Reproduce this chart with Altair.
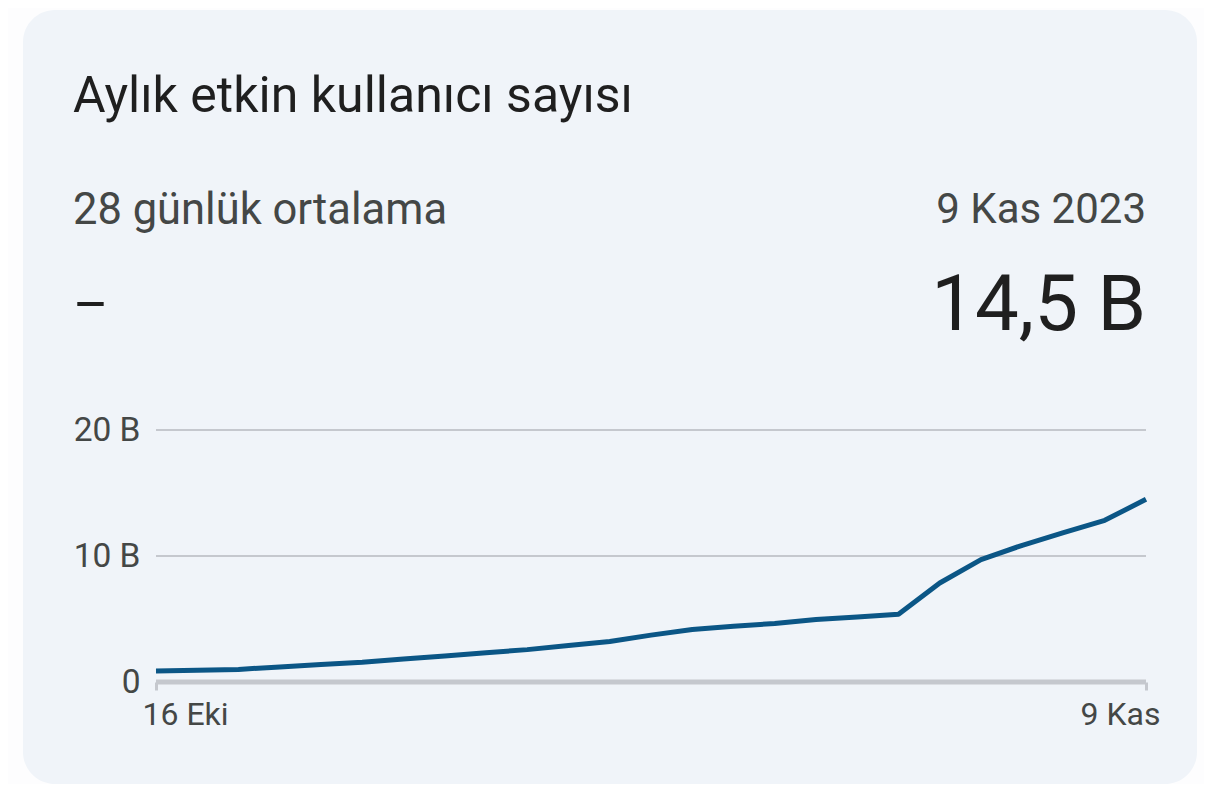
import altair as alt
import pandas as pd

# ---- content ----
TITLE = "Aylık etkin kullanıcı sayısı"
SUBTITLE = "28 günlük ortalama"
DATE_LABEL = "9 Kas 2023"
AVG_TEXT = "–"
UNIT = "B"

dates = pd.date_range("2023-10-16", "2023-11-09", freq="D").strftime("%Y-%m-%d").tolist()
values = [0.87, 0.94, 1.00, 1.20, 1.38, 1.56, 1.82, 2.06, 2.32, 2.57,
          2.90, 3.22, 3.72, 4.17, 4.42, 4.65, 4.96, 5.15, 5.38, 7.86,
          9.71, 10.85, 11.85, 12.83, 14.50]
y_ticks = [0, 10, 20]
month_names = ["Oca", "Şub", "Mar", "Nis", "May", "Haz",
               "Tem", "Ağu", "Eyl", "Eki", "Kas", "Ara"]

LAST_TEXT = f"{values[-1]:.1f}".replace(".", ",") + " " + UNIT

# ---- style ----
FONT = "Roboto"
CARD = "#f0f4f9"
LINE = "#0b5686"
GRID = "#c5c8ce"
DARK = "#1f1f1f"
GREY = "#444746"

df = pd.DataFrame({"date": dates, "value": values})
ticks_df = pd.DataFrame({"value": y_ticks})

t_first = int(pd.Timestamp(dates[0], tz="UTC").value // 10**6)
t_last = int(pd.Timestamp(dates[-1], tz="UTC").value // 10**6)
month_arr = "[" + ",".join(f"'{m}'" for m in month_names) + "]"

y_scale = alt.Scale(domain=[0, 20], nice=False, zero=True)
x_scale = alt.Scale(type="utc", nice=False, padding=0)

y_axis = alt.Axis(
    values=y_ticks,
    labelExpr="datum.value == 0 ? '0' : datum.value + ' " + UNIT + "'",
    title=None, grid=False, domain=False, ticks=False,
    labelFont=FONT, labelFontSize=33.5, labelColor=GREY,
    labelPadding=16, zindex=1,
)

card = alt.Chart(alt.Data(values=[{}])).mark_rect(
    fill=CARD, cornerRadius=32
).encode(
    x=alt.value(-133), x2=alt.value(1041),
    y=alt.value(-420), y2=alt.value(354),
)

rules = alt.Chart(ticks_df).mark_rule(color=GRID).encode(
    y=alt.Y("value:Q", scale=y_scale, axis=y_axis),
    strokeWidth=alt.condition(alt.datum.value == 0, alt.value(5), alt.value(2)),
)

line = alt.Chart(df).mark_line(
    color=LINE, strokeWidth=5, strokeJoin="round"
).encode(
    x=alt.X(
        "date:T", scale=x_scale,
        axis=alt.Axis(
            values=[t_first, t_last],
            labelExpr="utcdate(datum.value) + ' ' + " + month_arr + "[utcmonth(datum.value)]",
            title=None, grid=False, domain=False,
            ticks=True, tickSize=8, tickWidth=3, tickColor=GRID,
            labelFlush=True, labelFlushOffset=14,
            labelFont=FONT, labelFontSize=32, labelColor=GREY,
            labelPadding=9, labelBaseline="top", zindex=1,
        ),
    ),
    y=alt.Y("value:Q", scale=y_scale, axis=y_axis),
)


def label(text, x, y, size, color, align="left"):
    return alt.Chart(alt.Data(values=[{}])).mark_text(
        text=text, font=FONT, fontSize=size, color=color,
        align=align, baseline="alphabetic",
    ).encode(x=alt.value(x), y=alt.value(y))


texts = [
    label(TITLE, -83, -318, 50, DARK),
    label(SUBTITLE, -83, -206, 43.5, GREY),
    label(DATE_LABEL, 990, -207, 42, GREY, "right"),
    label(AVG_TEXT, -83, -107, 54, DARK),
    label(LAST_TEXT, 990, -100, 78, DARK, "right"),
]

chart = alt.layer(card, rules, line, *texts).properties(
    width=990, height=252,
    padding={"left": 148, "top": 422, "right": 58, "bottom": 102},
    autosize=alt.AutoSizeParams(type="none"),
    background="#fdfdfe",
).configure_view(stroke=None)

chart.save("out.html", embed_options={"renderer": "svg", "actions": False})
